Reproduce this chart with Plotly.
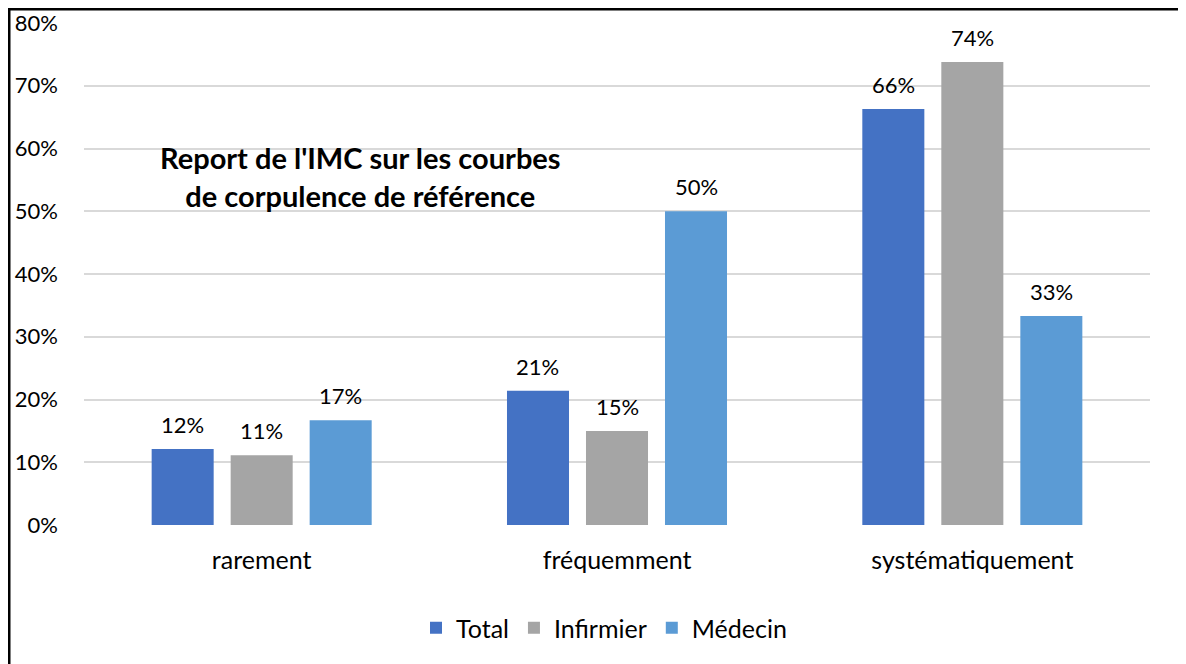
import plotly.graph_objects as go

# categories and series (share of respondents)
categories = ["rarement", "fréquemment", "systématiquement"]
series_names = ["Total", "Infirmier", "Médecin"]
total = [0.121, 0.214, 0.663]
infirmier = [0.111, 0.150, 0.738]
medecin = [0.167, 0.500, 0.333]
labels_total = ["12%", "21%", "66%"]
labels_infirmier = ["11%", "15%", "74%"]
labels_medecin = ["17%", "50%", "33%"]

y_ticks = [0, 0.1, 0.2, 0.3, 0.4, 0.5, 0.6, 0.7, 0.8]
y_tick_text = ["0%", "10%", "20%", "30%", "40%", "50%", "60%", "70%", "80%"]

FONT = "Lato"
colors = ["#4472C4", "#A5A5A5", "#5B9BD5"]

# the page body adds 8px around the figure
W, H = 1178, 656
L, R, T, B = 76, 36, 15, 139
plot_w = W - L - R
plot_h = H - T - B
cat_w = plot_w / len(categories)
BARGAP = 0.333
slot = cat_w * (1 - BARGAP) / 3

fig = go.Figure()
annotations = []
all_vals = [total, infirmier, medecin]
all_txt = [labels_total, labels_infirmier, labels_medecin]
for i, name in enumerate(series_names):
    fig.add_trace(go.Bar(
        x=categories, y=all_vals[i], name=name,
        marker_color=colors[i], marker_line_width=0,
    ))
    for c, v, t in zip(categories, all_vals[i], all_txt[i]):
        annotations.append(dict(
            x=c, y=v, xref="x", yref="y", text=t, showarrow=False,
            xanchor="center", yanchor="bottom", xshift=(i - 1) * slot, yshift=9,
            font=dict(family=FONT, size=22, color="#000000"),
        ))

annotations.append(dict(
    text="<b>Report de l'IMC sur les courbes<br>de corpulence de référence</b>",
    xref="paper", yref="paper", x=(352 - L) / plot_w, y=(517 - 169) / plot_h,
    xanchor="center", yanchor="middle", showarrow=False,
    font=dict(family=FONT, size=29, color="#000000"), align="center",
))

fig.update_layout(
    width=W, height=H,
    margin=dict(l=L, r=R, t=T, b=B, autoexpand=False),
    paper_bgcolor="white", plot_bgcolor="white",
    barmode="group", bargap=BARGAP, bargroupgap=0.215,
    font=dict(family=FONT, size=22, color="#000000"),
    showlegend=True,
    legend=dict(orientation="h", x=(596 - L) / plot_w, xanchor="center",
                y=-(620 - 517) / plot_h, yanchor="middle",
                font=dict(family=FONT, size=25), traceorder="normal"),
    xaxis=dict(showline=False, ticks="", ticklabelstandoff=18,
               tickfont=dict(family=FONT, size=25)),
    yaxis=dict(range=[0, 0.8], tickvals=y_ticks, ticktext=y_tick_text,
               showgrid=True, gridcolor="#D9D9D9", gridwidth=2,
               zeroline=False, showline=False, ticklabelstandoff=25,
               tickfont=dict(family=FONT, size=22)),
    annotations=annotations,
    shapes=[
        dict(type="line", xref="paper", yref="paper",
             x0=(1 - L) / plot_w, x1=(1 - L) / plot_w,
             y0=(T + plot_h - H) / plot_h, y1=(T + plot_h) / plot_h,
             line=dict(color="black", width=3)),
        dict(type="line", xref="paper", yref="paper",
             x0=0 - L / plot_w, x1=(W - L) / plot_w,
             y0=(T + plot_h - 1) / plot_h, y1=(T + plot_h - 1) / plot_h,
             line=dict(color="black", width=3)),
    ],
)

fig.write_html("out.html")
